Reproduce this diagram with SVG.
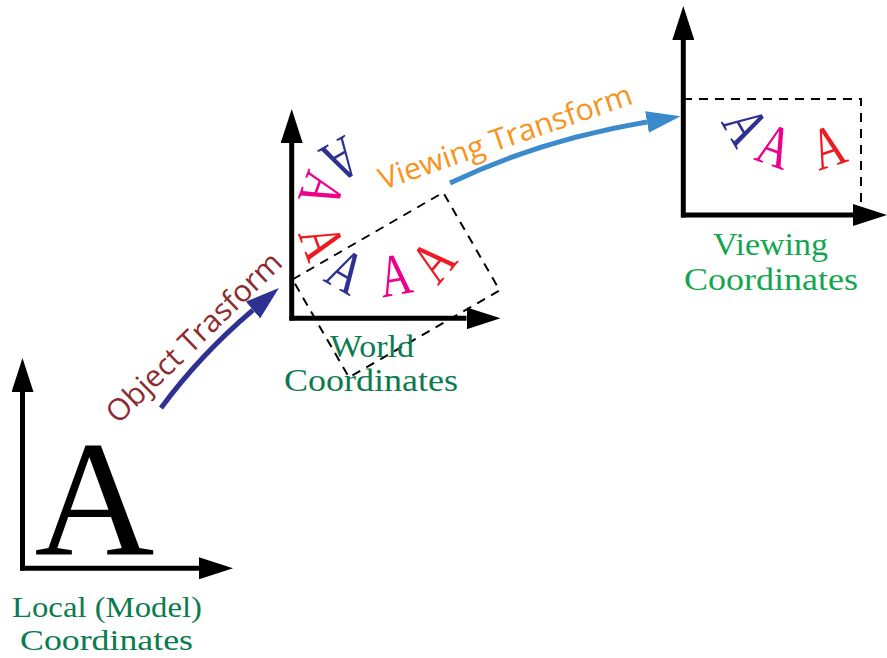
<svg xmlns="http://www.w3.org/2000/svg" width="887" height="658" viewBox="0 0 887 658">
<style>
.axis{stroke:#000;stroke-width:5;fill:none}
.dash{stroke:#000;stroke-width:2;fill:none;stroke-dasharray:9 7}
.lbl{font-family:"Liberation Serif","Times New Roman",serif;font-size:32px;text-anchor:middle}
.dg{fill:#0b7b4f}
.lg{fill:#13a64f}
.sm{font-family:"Liberation Serif","Times New Roman",serif;font-size:60px;text-anchor:middle}
.tr{font-family:"Open Sans","Noto Sans",sans-serif;font-size:30px}
.blue{fill:#2e3192}.pink{fill:#ec008c}.red{fill:#ed1c24}
</style>
<defs>
<marker id="ak" markerUnits="userSpaceOnUse" markerWidth="34" markerHeight="22" refX="0" refY="11" orient="auto"><path d="M0,0 L34,11 L0,22 z" fill="#000"/></marker>
<marker id="an" markerUnits="userSpaceOnUse" markerWidth="34" markerHeight="22" refX="0" refY="11" orient="auto"><path d="M0,0 L34,11 L0,22 z" fill="#2e3192"/></marker>
<marker id="ab" markerUnits="userSpaceOnUse" markerWidth="34" markerHeight="22" refX="0" refY="11" orient="auto"><path d="M0,0 L34,11 L0,22 z" fill="#3b8acb"/></marker>
</defs>

<g id="local">
<path class="axis" d="M22.5,570.5 V392" marker-end="url(#ak)"/>
<path class="axis" d="M20,568.3 H199" marker-end="url(#ak)"/>
<text x="94.5" y="555" font-family="Liberation Serif,Times New Roman,serif" font-size="166" text-anchor="middle" fill="#000">A</text>
<text class="lbl dg" x="107" y="617" font-size="30" textLength="190" lengthAdjust="spacingAndGlyphs" style="font-size:30px">Local (Model)</text>
<text class="lbl dg" x="106.5" y="650" textLength="173" lengthAdjust="spacingAndGlyphs" style="font-size:30px">Coordinates</text>
</g>

<g id="world">
<path class="axis" d="M291.7,320.5 V143" marker-end="url(#ak)"/>
<path class="axis" d="M289.5,318.3 H466.5" marker-end="url(#ak)"/>
<rect class="dash" x="0" y="0" width="174" height="113" transform="translate(292.5,279.5) rotate(-30)"/>
<g transform="translate(341,160) rotate(150)"><text class="sm blue" y="20" transform="scale(0.75,1)">A</text></g>
<g transform="translate(322,190) rotate(110)"><text class="sm pink" y="20" transform="scale(0.75,1)">A</text></g>
<g transform="translate(322,242) rotate(70)"><text class="sm red" y="20" transform="scale(0.75,1)">A</text></g>
<g transform="translate(346,271) rotate(30)"><text class="sm blue" y="20" transform="scale(0.75,1)">A</text></g>
<g transform="translate(395,275) rotate(-10)"><text class="sm pink" y="20" transform="scale(0.75,1)">A</text></g>
<g transform="translate(433,261) rotate(-50)"><text class="sm red" y="20" transform="scale(0.75,1)">A</text></g>
<text class="lbl dg" x="372" y="357" textLength="84" lengthAdjust="spacingAndGlyphs">World</text>
<text class="lbl dg" x="371" y="391" textLength="174" lengthAdjust="spacingAndGlyphs">Coordinates</text>
</g>

<g id="viewing">
<path class="axis" d="M683.3,217.5 V40" marker-end="url(#ak)"/>
<path class="axis" d="M681,215 H853" marker-end="url(#ak)"/>
<path class="dash" d="M683,99 H861 V215"/>
<g transform="translate(746,126) rotate(60)"><text class="sm blue" y="20" transform="scale(0.75,1)">A</text></g>
<g transform="translate(775,146) rotate(20)"><text class="sm pink" y="20" transform="scale(0.75,1)">A</text></g>
<g transform="translate(828,147) rotate(-18)"><text class="sm red" y="20" transform="scale(0.75,1)">A</text></g>
<text class="lbl lg" x="770.5" y="255" textLength="115" lengthAdjust="spacingAndGlyphs">Viewing</text>
<text class="lbl lg" x="771" y="290" textLength="174" lengthAdjust="spacingAndGlyphs">Coordinates</text>
</g>

<g id="connectors">
<path d="M161,408 Q200,355 253,310" stroke="#2e3192" stroke-width="5" fill="none" marker-end="url(#an)"/>
<path d="M450,183 Q540,140 647,122" stroke="#3b8acb" stroke-width="5" fill="none" marker-end="url(#ab)"/>
<text class="tr" fill="#8e2b30" transform="translate(118,425) rotate(-44)" textLength="231" lengthAdjust="spacingAndGlyphs">Object Trasform</text>
<text class="tr" fill="#f7941d" transform="translate(383,190) rotate(-19)" textLength="266" lengthAdjust="spacingAndGlyphs">Viewing Transform</text>
</g>
</svg>
